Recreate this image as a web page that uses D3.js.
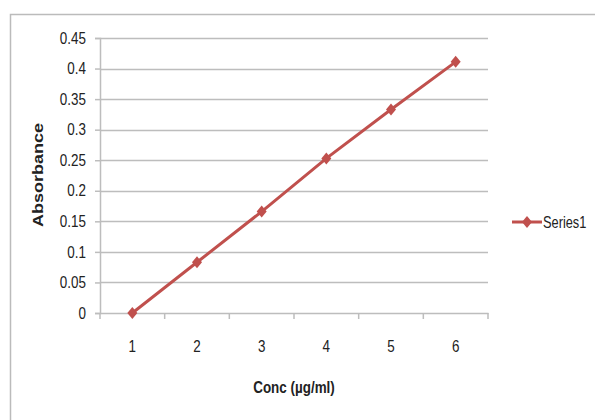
<!DOCTYPE html>
<html>
<head>
<meta charset="utf-8" />
<title></title>
<style>
html, body {
    padding: 0px;
    margin: 0px;
    background: #fff;
}
text {
    font-family: "Liberation Sans", sans-serif;
    fill: #222;
}
</style>
</head>
<body>
<div id="chart"></div>
<script src="https://cdnjs.cloudflare.com/ajax/libs/d3/7.8.5/d3.min.js"></script>
<script>
!(function(){
    "use strict"

    var categories = ["1", "2", "3", "4", "5", "6"]
    var series1 = [0, 0.083, 0.166, 0.253, 0.333, 0.411]
    var yTicks = [0, 0.05, 0.1, 0.15, 0.2, 0.25, 0.3, 0.35, 0.4, 0.45]
    var seriesName = "Series1"

    var W = 595, H = 420
    var plot = {left: 100, right: 488, top: 38, bottom: 313}
    var red = "#c0504d"
    var sx = 0.84 // narrow look of the original font

    var svg = d3.select("#chart").append("svg")
        .attr("width", W).attr("height", H)

    // chart frame
    svg.append("path")
        .attr("d", "M10.5," + H + "V14.5H" + W)
        .attr("fill", "none")
        .attr("stroke", "#bbb")
        .attr("stroke-width", 1.5)

    var x = d3.scaleBand().domain(categories).range([plot.left, plot.right])
    var y = d3.scaleLinear().domain([0, 0.45]).range([plot.bottom, plot.top])

    // gridlines
    svg.append("g").selectAll("line")
        .data(yTicks.slice(1))
        .enter().append("line")
        .attr("x1", plot.left).attr("x2", plot.right)
        .attr("y1", function(d){ return Math.round(y(d)) + 0.5 })
        .attr("y2", function(d){ return Math.round(y(d)) + 0.5 })
        .attr("stroke", "#bdbdbd")
        .attr("stroke-width", 1.5)

    // y axis
    var yAxis = svg.append("g")
        .attr("transform", "translate(" + plot.left + ",0)")
        .call(d3.axisLeft(y).tickValues(yTicks).tickSize(5).tickPadding(9)
            .tickFormat(function(d){ return d3.format("")(+d.toFixed(2)) }))
    yAxis.attr("font-family", null)
    yAxis.select(".domain").attr("stroke", "#bdbdbd").attr("stroke-width", 1.5)
    yAxis.selectAll(".tick line").attr("stroke", "#bdbdbd").attr("stroke-width", 1.5)
    yAxis.selectAll("text")
        .attr("font-size", 16).attr("fill", "#222")
        .attr("x", -14 / sx)
        .attr("transform", "scale(" + sx + ",1)")

    // x axis (ticks between categories)
    var xAxis = svg.append("g")
        .attr("transform", "translate(0," + plot.bottom + ")")
        .call(d3.axisBottom(x).tickSize(0).tickPadding(28))
    xAxis.attr("font-family", null)
    xAxis.select(".domain").attr("stroke", "#bdbdbd").attr("stroke-width", 1.5)
    xAxis.selectAll("text")
        .attr("font-size", 16).attr("fill", "#222")
        .attr("transform", "scale(" + sx + ",1)")
    svg.append("g").selectAll("line")
        .data(categories.concat(["end"]))
        .enter().append("line")
        .attr("x1", function(d, i){ return plot.left + i * x.bandwidth() })
        .attr("x2", function(d, i){ return plot.left + i * x.bandwidth() })
        .attr("y1", plot.bottom).attr("y2", plot.bottom + 6)
        .attr("stroke", "#bdbdbd").attr("stroke-width", 1.5)

    // axis titles
    svg.append("text")
        .attr("transform", "translate(43,175) rotate(-90)")
        .attr("text-anchor", "middle")
        .attr("font-size", 14)
        .attr("font-weight", "bold")
        .attr("textLength", 104)
        .attr("lengthAdjust", "spacingAndGlyphs")
        .text("Absorbance")

    svg.append("text")
        .attr("transform", "translate(294,393) scale(" + sx + ",1)")
        .attr("text-anchor", "middle")
        .attr("font-size", 16)
        .attr("font-weight", "bold")
        .text("Conc (\u00b5g/ml)")

    // series line
    var line = d3.line()
        .x(function(d, i){ return x(categories[i]) + x.bandwidth() / 2 })
        .y(function(d){ return y(d) })

    svg.append("path")
        .datum(series1)
        .attr("d", line)
        .attr("fill", "none")
        .attr("stroke", red)
        .attr("stroke-width", 3)

    var diamond = "M0,-6L5,0L0,6L-5,0Z"
    svg.append("g").selectAll("path")
        .data(series1)
        .enter().append("path")
        .attr("transform", function(d, i){
            return "translate(" + (x(categories[i]) + x.bandwidth() / 2) + "," + y(d) + ")"
        })
        .attr("d", diamond)
        .attr("fill", red)

    // legend
    var lg = svg.append("g").attr("transform", "translate(512,222)")
    lg.append("line").attr("x1", 0).attr("x2", 30)
        .attr("stroke", red).attr("stroke-width", 3)
    lg.append("path").attr("d", diamond).attr("transform", "translate(15,0)").attr("fill", red)
    lg.append("text")
        .attr("transform", "translate(31,6) scale(0.8,1)")
        .attr("font-size", 16)
        .text(seriesName)

}());
</script>
</body>
</html>
